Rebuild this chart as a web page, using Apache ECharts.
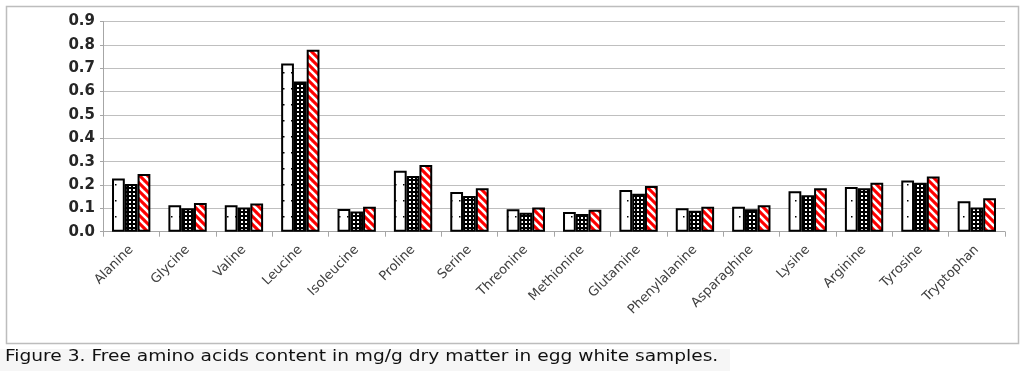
<!DOCTYPE html>
<html><head><meta charset="utf-8">
<script src="https://cdn.jsdelivr.net/npm/echarts@6/dist/echarts.min.js"></script>
<style>html,body{margin:0;padding:0;background:#fff;}#c{width:1024px;height:371px;}</style>
</head><body><div id="c"></div>
<script>
const categories = ['Alanine','Glycine','Valine','Leucine','Isoleucine','Proline','Serine','Threonine','Methionine','Glutamine','Phenylalanine','Asparaghine','Lysine','Arginine','Tyrosine','Tryptophan'];
const sample1 = [0.228,0.113,0.113,0.720,0.097,0.261,0.170,0.096,0.084,0.179,0.100,0.107,0.173,0.191,0.219,0.130];
const sample2 = [0.204,0.100,0.104,0.643,0.086,0.239,0.153,0.081,0.076,0.163,0.090,0.096,0.156,0.186,0.210,0.104];
const sample3 = [0.247,0.123,0.121,0.779,0.107,0.286,0.186,0.104,0.094,0.196,0.107,0.113,0.186,0.210,0.236,0.143];
const yTicks = [0,0.1,0.2,0.3,0.4,0.5,0.6,0.7,0.8,0.9];
const caption = 'Figure 3. Free amino acids content in mg/g dry matter in egg white samples.';

function tile(w,h,draw){const c=document.createElement('canvas');c.width=w;c.height=h;const g=c.getContext('2d');draw(g,w,h);return c;}
const patWhite = tile(8,16,(g,w,h)=>{g.fillStyle='#fff';g.fillRect(0,0,w,h);g.fillStyle='#000';g.fillRect(3,8,1.5,1.5);});
const patDots = tile(4,4,(g,w,h)=>{g.fillStyle='#000';g.fillRect(0,0,w,h);g.fillStyle='#fff';g.fillRect(1,1,2,2);});
const patStripe = tile(8,8,(g,w,h)=>{g.fillStyle='#ff0000';g.fillRect(0,0,w,h);g.strokeStyle='#fff';g.lineWidth=2.6;
  for(let k=-2;k<=2;k++){g.beginPath();g.moveTo(k*8-2,-2);g.lineTo(k*8+10,10);g.stroke();}});

const chart = echarts.init(document.getElementById('c'),null,{renderer:'canvas'});
function mk(name,data,pat){return {name,type:'bar',data,barGap:'0%',barCategoryGap:'32%',
  itemStyle:{color:{image:pat,repeat:'repeat'},borderColor:'#000',borderWidth:2},animation:false};}
chart.setOption({
  animation:false,
  grid:{left:103,right:19,top:21.5,bottom:139.3},
  graphic:[
    {type:'rect',shape:{x:6.5,y:6.5,width:1012,height:337},style:{fill:'none',stroke:'#bdbdbd',lineWidth:1.5},z:-1},
    {type:'rect',shape:{x:0,y:349,width:730,height:22},style:{fill:'#f6f6f6'},z:-2},
    {type:'text',x:5,y:348.5,scaleX:1.163,style:{text:caption,x:0,y:0,font:'16px "DejaVu Sans"',fill:'#111'}}
  ],
  xAxis:{type:'category',data:categories,
    axisLine:{lineStyle:{color:'#a6a6a6',width:1}},
    axisTick:{show:true,length:5,lineStyle:{color:'#a6a6a6'}},
    axisLabel:{rotate:45,margin:16,fontFamily:'DejaVu Sans',fontSize:13,color:'#404040',interval:0}},
  yAxis:{type:'value',min:0,max:0.9,interval:0.1,
    axisLine:{show:true,lineStyle:{color:'#a6a6a6'}},
    axisTick:{show:true,length:3,lineStyle:{color:'#a6a6a6'}},
    splitLine:{lineStyle:{color:'#bfbfbf',width:1}},
    axisLabel:{margin:8,fontFamily:'DejaVu Sans',fontSize:15,fontWeight:'bold',color:'#262626',
      formatter:v=>{const t=yTicks.find(x=>Math.abs(x-v)<1e-9);return (t!==undefined?t:v).toFixed(1);}}},
  series:[mk('S1',sample1,patWhite),mk('S2',sample2,patDots),mk('S3',sample3,patStripe)]
});
</script></body></html>
